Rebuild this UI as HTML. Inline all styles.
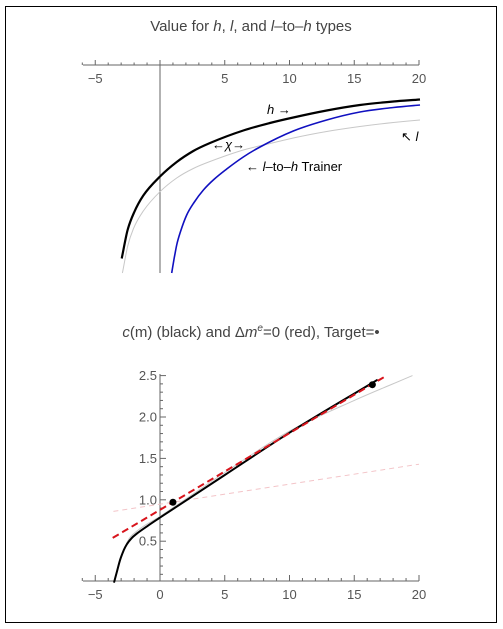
<!DOCTYPE html>
<html><head><meta charset="utf-8"><style>
body{margin:0;background:#fff;}
svg{display:block;font-family:"Liberation Sans",sans-serif;}
</style></head><body>
<svg id="c" width="503" height="629">
<rect x="5.5" y="6.5" width="491" height="616" fill="#fff" stroke="#000" stroke-width="1"/>
<text x="251" y="31" text-anchor="middle" font-size="15" fill="#444">Value for <tspan font-style="italic">h</tspan>, <tspan font-style="italic">l</tspan>, and <tspan font-style="italic">l</tspan>–to–<tspan font-style="italic">h</tspan> types</text>
<text x="251" y="337" text-anchor="middle" font-size="15" fill="#444"><tspan font-style="italic">c</tspan>(m) (black) and Δ<tspan font-style="italic">m</tspan><tspan font-size="10" dy="-6" font-style="italic">e</tspan><tspan dy="6">=0 (red), Target=•</tspan></text>
<g id="top"></g>
<g id="bot"></g>
</svg>
<script>
// ---- top chart data (x, value) ----
const topHX = [-2.96,-2.5,-2,-1.29,0,1.29,2.57,3.86,6.43,8.49,10.29,12.87,15.44,18.02,20.08];
const topHY = [0.145,0.43,0.606,0.775,0.965,1.11,1.22,1.30,1.425,1.50,1.555,1.625,1.68,1.715,1.735];
const topLX = [-2.9,-2.5,-2.06,-1.29,0,1.29,2.57,3.86,6.43,8.49,10.29,12.87,15.44,18.02,20.08];
const topLY = [0,0.265,0.44,0.62,0.813,0.95,1.045,1.115,1.23,1.295,1.35,1.415,1.465,1.505,1.53];
const topTX = [0.9,1.1,1.29,1.6,2.06,2.6,3.35,4.2,5.15,6.43,7.72,10.29,12.87,15.44,18.02,20.08];
const topTY = [0,0.15,0.28,0.42,0.58,0.70,0.83,0.94,1.04,1.16,1.26,1.42,1.53,1.61,1.655,1.68];
const topXTicks = [-5,5,10,15,20];
// ---- bottom chart data ----
const cX = [-3.55,-3.3,-3.09,-2.8,-2.57,-2.2,-1.8,-1,0,5,10,16.8];
const cY = [0,0.15,0.27,0.39,0.46,0.535,0.59,0.68,0.785,1.30,1.81,2.45];
const grayX = [-3.6,-2.5,-1.8,0,5,10,15,19.5];
const grayY = [0,0.5,0.62,0.8,1.33,1.83,2.2,2.5];
const redX = [-3.65,17.5];
const redY = [0.54,2.5];
const pinkX = [-3.6,20];
const pinkY = [0.86,1.43];
const targetX = [1,16.4];
const targetY = [0.97,2.39];
const botXTicks = [-5,0,5,10,15,20];
const botYTicks = [0.5,1.0,1.5,2.0,2.5];

const NS="http://www.w3.org/2000/svg";
function mk(parent,tag,attrs){const e=document.createElementNS(NS,tag);for(const k in attrs)e.setAttribute(k,attrs[k]);parent.appendChild(e);return e;}
const sx = v => 160 + v*12.95;
const tsy = v => 273 - v*100;
const bsy = v => 582.6 - v*82.8;
function path(xs,ys,fy){return xs.map((x,i)=>(i?'L':'M')+sx(x).toFixed(1)+','+fy(ys[i]).toFixed(1)).join(' ');}
function smooth(xs,ys,fy){ // monotone cubic (Fritsch-Carlson)
  const X=xs.map(sx),Y=ys.map(fy),n=X.length;
  const d=[],m=[];
  for(let i=0;i<n-1;i++)d.push((Y[i+1]-Y[i])/(X[i+1]-X[i]));
  m[0]=d[0];m[n-1]=d[n-2];
  for(let i=1;i<n-1;i++){m[i]=(d[i-1]*d[i]<=0)?0:(d[i-1]+d[i])/2;}
  for(let i=0;i<n-1;i++){if(d[i]===0){m[i]=m[i+1]=0;continue;}
    const a=m[i]/d[i],b=m[i+1]/d[i],s=a*a+b*b;if(s>9){const t=3/Math.sqrt(s);m[i]=t*a*d[i];m[i+1]=t*b*d[i];}}
  let p='M'+X[0].toFixed(1)+','+Y[0].toFixed(1);
  for(let i=0;i<n-1;i++){const h=(X[i+1]-X[i])/3;
    p+=' C'+(X[i]+h).toFixed(1)+','+(Y[i]+m[i]*h).toFixed(1)+' '+(X[i+1]-h).toFixed(1)+','+(Y[i+1]-m[i+1]*h).toFixed(1)+' '+X[i+1].toFixed(1)+','+Y[i+1].toFixed(1);}
  return p;}

// top chart
const T=document.getElementById('top');
let ax=mk(T,'line',{x1:83,y1:65,x2:419,y2:65,stroke:'#666','stroke-width':1});

for(let v=-6;v<=20;v++){const t=mk(T,'line',{x1:sx(v),x2:sx(v),y1:65,y2:v%5===0?60:62.5,stroke:'#666','stroke-width':1});
  }
topXTicks.forEach(v=>{const t=mk(T,'text',{x:sx(v),y:83,'text-anchor':'middle','font-size':13,fill:'#555'});t.textContent=v<0?'−'+(-v):v;
  });
let va=mk(T,'line',{x1:160,y1:65,x2:160,y2:273,stroke:'#666','stroke-width':1});

let e;
e=mk(T,'path',{d:smooth(topLX,topLY,tsy),fill:'none',stroke:'#c8c8c8','stroke-width':1});

e=mk(T,'path',{d:smooth(topTX,topTY,tsy),fill:'none',stroke:'#1010c0','stroke-width':1.6});

e=mk(T,'path',{d:smooth(topHX,topHY,tsy),fill:'none',stroke:'#000','stroke-width':2.2});

const labels=[[267,114,'<tspan font-style="italic">h</tspan> →','h-label'],[212,149,'←<tspan font-style="italic">χ</tspan>→','chi-label'],[246,171,'← <tspan font-style="italic">l</tspan>–to–<tspan font-style="italic">h</tspan> Trainer','trainer-label'],[401,141,'↖ <tspan font-style="italic">l</tspan>','l-label']];
labels.forEach(l=>{const t=mk(T,'text',{x:l[0],y:l[1],'font-size':13,fill:'#000'});t.innerHTML=l[2];
  });

// bottom chart
const B=document.getElementById('bot');
e=mk(B,'line',{x1:83,y1:581,x2:419,y2:581,stroke:'#666','stroke-width':1});

for(let v=-6;v<=20;v++){const t=mk(B,'line',{x1:sx(v),x2:sx(v),y1:581,y2:v%5===0?575:578,stroke:'#666','stroke-width':1});
  }
botXTicks.forEach(v=>{const t=mk(B,'text',{x:sx(v),y:599,'text-anchor':'middle','font-size':13,fill:'#555'});t.textContent=v<0?'−'+(-v):v;
  });
e=mk(B,'line',{x1:160,y1:374,x2:160,y2:581,stroke:'#666','stroke-width':1});

for(let i=1;i<=25;i++){const v=i/10;const t=mk(B,'line',{x1:160,x2:i%5===0?166:163,y1:bsy(v),y2:bsy(v),stroke:'#666','stroke-width':1});
  }
botYTicks.forEach(v=>{const t=mk(B,'text',{x:157,y:bsy(v)+4.5,'text-anchor':'end','font-size':13,fill:'#555'});t.textContent=v.toFixed(1);
  });
e=mk(B,'path',{d:path(pinkX,pinkY,bsy),fill:'none',stroke:'#f3c4c8','stroke-width':1,'stroke-dasharray':'5,4'});

e=mk(B,'path',{d:smooth(grayX,grayY,bsy),fill:'none',stroke:'#c8c8c8','stroke-width':1});

e=mk(B,'path',{d:smooth(cX,cY,bsy),fill:'none',stroke:'#000','stroke-width':2});

e=mk(B,'path',{d:path(redX,redY,bsy),fill:'none',stroke:'#d8141c','stroke-width':2,'stroke-dasharray':'7,4'});

targetX.forEach((x,i)=>{const c=mk(B,'circle',{cx:sx(x),cy:bsy(targetY[i]),r:3.5,fill:'#000'});
  });
</script>
</body></html>
